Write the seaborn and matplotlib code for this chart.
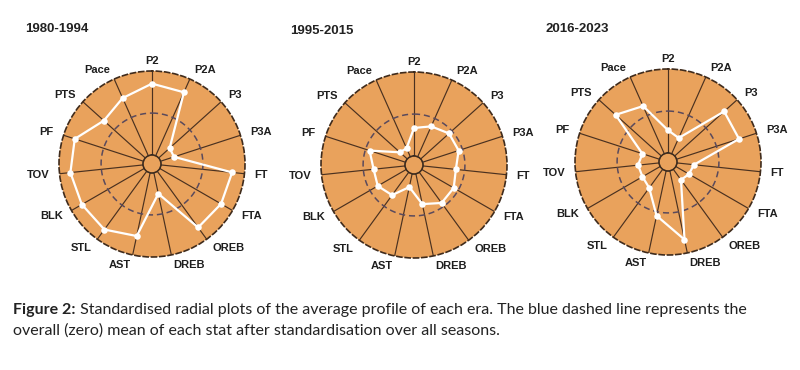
import numpy as np
import pandas as pd
import matplotlib
matplotlib.use("Agg")
import matplotlib.pyplot as plt
import matplotlib.patches as mpatches
import seaborn as sns

# ---- data -------------------------------------------------------------
categories = ["P2", "P2A", "P3", "P3A", "FT", "FTA", "OREB", "DREB",
              "AST", "STL", "BLK", "TOV", "PF", "PTS", "Pace"]
eras = ["1980-1994", "1995-2015", "2016-2023"]
era_1980_1994 = [1.40, 1.31, -1.29, -1.32, 1.41, 1.37, 1.31, -0.98,
                 1.08, 1.43, 1.43, 1.48, 1.44, 0.66, 1.01]
era_1995_2015 = [-0.66, -0.41, -0.18, -0.19, -0.42, -0.24, -0.19, -0.52,
                 -1.35, -0.65, -0.43, -0.49, -0.20, -1.52, -1.55]
era_2016_2023 = [-0.91, -1.17, 1.17, 1.13, -1.18, -1.27, -1.37, 1.35,
                 0.19, -0.90, -1.02, -0.99, -1.14, 0.93, 0.49]
series = [era_1980_1994, era_1995_2015, era_2016_2023]

caption_bold = "Figure 2:"
caption_line1 = " Standardised radial plots of the average profile of each era. The blue dashed line represents the"
caption_line2 = "overall (zero) mean of each stat after standardisation over all seasons."

# ---- style ------------------------------------------------------------
sns.set_theme(style="white")
plt.rcParams["font.family"] = ["Liberation Sans", "DejaVu Sans"]

ORANGE = "#E9A25C"
DARK = "#3f2b1c"
SPOKE = "#4a3120"
MEAN_C = "#5a4a5c"

RMIN, RMAX, RORIG = -2.0, 2.0, -2.42

W, H = 800, 370
fig = plt.figure(figsize=(W / 100, H / 100), dpi=100)
fig.patch.set_facecolor("white")

centers = [(152, 164), (414, 165), (668, 162)]
title_pos = [(25, 29.5), (290, 31.5), (545, 29.5)]
R = 93

n = len(categories)
angles = np.arange(n) * 2 * np.pi / n

for k, (vals, (cx, cy)) in enumerate(zip(series, centers)):
    ax = fig.add_axes([(cx - R) / W, 1 - (cy + R) / H, 2 * R / W, 2 * R / H],
                      projection="polar")
    ax.set_theta_zero_location("N")
    ax.set_theta_direction(-1)
    ax.set_facecolor(ORANGE)

    ax.set_xticks(angles)
    ax.set_xticklabels([])
    ax.set_yticks([])
    ax.xaxis.grid(True, color=SPOKE, linewidth=0.85, linestyle="-")
    ax.yaxis.grid(False)

    ax.spines["polar"].set_color(DARK)
    ax.spines["polar"].set_linewidth(1.2)
    ax.spines["polar"].set_linestyle((0, (3, 2)))
    ax.spines["inner"].set_visible(False)

    # zero-mean dashed circle
    th = np.linspace(0, 2 * np.pi, 300)
    ax.plot(th, np.zeros_like(th), color=MEAN_C, linewidth=1.1,
            linestyle=(0, (4, 2.5)), zorder=2)

    df = pd.DataFrame({"theta": np.append(angles, 2 * np.pi),
                       "value": np.append(vals, vals[0])})
    sns.lineplot(data=df, x="theta", y="value", sort=False, estimator=None,
                 ax=ax, color="white", linewidth=1.6, zorder=4)
    sns.scatterplot(data=df.iloc[:-1], x="theta", y="value", ax=ax,
                    color="white", s=22, edgecolor="white", linewidth=0, zorder=5)
    ax.set_xlabel("")
    ax.set_ylabel("")
    ax.set_xlim(0, 2 * np.pi)
    ax.set_ylim(RMIN, RMAX)
    ax.set_rorigin(RORIG)

    # hole in the middle
    hole_frac = (RMIN - RORIG) / (RMAX - RORIG)
    ax.add_patch(mpatches.Circle((0.5, 0.5), 0.5 * hole_frac, transform=ax.transAxes,
                                 facecolor=ORANGE, edgecolor=DARK, linewidth=0.9,
                                 zorder=3, clip_on=False))

    r_lab = RORIG + 1.11 * (RMAX - RORIG)
    for a, lab in zip(angles, categories):
        c = np.sin(a)  # horizontal component (clockwise from north)
        ha = "left" if c > 0.15 else ("right" if c < -0.15 else "center")
        ax.text(a, r_lab, lab, ha=ha, va="center", fontsize=8,
                fontweight="bold", color="#1e1e1e", clip_on=False)

    tx, ty = title_pos[k]
    fig.text(tx / W, 1 - ty / H, eras[k], ha="left", va="center",
             fontsize=9.5, fontweight="bold", color="#222222")

# ---- caption ----------------------------------------------------------
cap_font = ["Lato", "DejaVu Sans"]
CAP_FS = 11.5
t1 = fig.text(13 / W, 1 - 310 / H, caption_bold, ha="left", va="center",
              fontsize=CAP_FS, fontweight="bold", family=cap_font, color="#222222")
fig.canvas.draw()
bb = t1.get_window_extent(renderer=fig.canvas.get_renderer())
fig.text(bb.x1 / W, 1 - 310 / H, caption_line1, ha="left", va="center",
         fontsize=CAP_FS, family=cap_font, color="#222222")
fig.text(13 / W, 1 - 331 / H, caption_line2, ha="left", va="center",
         fontsize=CAP_FS, family=cap_font, color="#222222")

fig.savefig("out.png", dpi=100, facecolor="white")
